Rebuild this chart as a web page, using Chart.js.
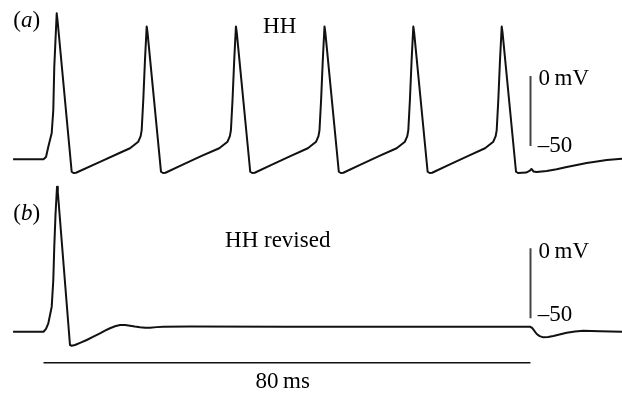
<!DOCTYPE html>
<html>
<head>
<meta charset="utf-8">
<script src="https://cdn.jsdelivr.net/npm/chart.js@4/dist/chart.umd.min.js"></script>
<style>
  html, body { margin: 0; padding: 0; background: #fff; }
  #wrap { width: 622px; height: 394px; }
</style>
</head>
<body>
<div id="wrap"><canvas id="traceChart" width="622" height="394"></canvas></div>
<script>
// (a) HH: membrane potential (mV) vs time (ms), step current from 0 to 80 ms
var timeA = [-5.0, 0, 0.41, 0.79, 1.35, 1.61, 1.77, 1.97, 2.17, 2.30, 4.63, 4.93, 5.34, 9.28, 12.57,
  14.21, 15.57, 15.96, 16.13, 16.39, 16.67, 16.95, 17.08, 19.30, 19.63, 20.04, 22.70, 25.98,
  28.87, 30.23, 30.62, 30.79, 31.05, 31.33, 31.61, 31.74, 33.96, 34.29, 34.70, 37.36, 40.64,
  43.42, 44.78, 45.17, 45.34, 45.60, 45.88, 46.16, 46.29, 48.51, 48.84, 49.25, 51.91, 55.19,
  58.01, 59.37, 59.76, 59.93, 60.19, 60.47, 60.75, 60.88, 63.10, 63.43, 63.84, 66.50, 69.78,
  72.53, 73.89, 74.28, 74.45, 74.71, 74.99, 75.27, 75.40, 77.62, 77.95, 79.3, 79.9, 80.15, 80.5, 81.0,
  82.66, 84.3, 85.95, 87.6, 89.23, 90.9, 92.52, 95.1];
var voltA = [-59.5, -59.5, -57.9, -50.5, -40.7, -24.3, 6.4, 25.7, 44.8, 40.0, -68.4, -69.3, -69.1, -61.3, -54.8,
  -51.6, -46.9, -42.9, -38.6, -17.1, 11.4, 35.4, 31.4, -68.4, -69.3, -69.1, -63.6, -57.1,
  -51.6, -46.9, -42.9, -38.6, -17.1, 11.4, 35.4, 31.4, -68.4, -69.3, -69.1, -63.6, -57.1,
  -51.6, -46.9, -42.9, -38.6, -17.1, 11.4, 35.4, 31.4, -68.4, -69.3, -69.1, -63.6, -57.1,
  -51.6, -46.9, -42.9, -38.6, -17.1, 11.4, 35.4, 31.4, -68.4, -69.3, -69.1, -63.6, -57.1,
  -51.6, -46.9, -42.9, -38.6, -17.1, 11.4, 35.4, 31.4, -68.4, -69.3, -69.0, -67.6, -66.4, -68.2, -68.6,
  -67.9, -66.6, -65.0, -63.5, -62.1, -61.0, -60.0, -59.1];

// (b) HH revised
var timeB = [-5.0, 0, 0.41, 0.79, 1.35, 1.61, 1.77, 1.97, 2.22, 2.35, 4.35, 4.63, 5.17, 6.1, 7.10, 8.2, 9.28,
  10.1, 10.92, 11.75, 12.57, 13.4, 14.21, 15.0, 15.85, 16.7, 17.49, 18.6, 19.68, 24.07, 40, 60, 79.92,
  80.3, 81.02, 81.5, 82.10, 82.9, 83.75, 85.95, 87.3, 88.67, 90.0, 91.42, 95.1];
var voltB = [-59.6, -59.6, -57.6, -53.6, -41.7, -22.6, 1.1, 23.8, 44.0, 40.2, -69.1, -69.6, -69.1, -67.4, -65.5, -63.1, -60.7,
  -58.8, -57.1, -55.7, -54.8, -54.8, -55.3, -55.9, -56.4, -56.7, -56.7, -56.3, -56.0, -55.9, -56.0, -56.0, -56.0,
  -57.0, -61.2, -62.7, -63.6, -63.4, -62.6, -60.3, -59.4, -58.9, -59.1, -59.3, -59.6];

// scale bars
var barTime = [0, 80];      // ms
var barVolt = [0, -50];     // mV
var barTimeLevel = -81.7;   // mV, where the time bar sits under (b)

var panelLetters = ['a', 'b'];
var panelTitles = ['HH', 'HH revised'];
var voltLabels = ['0\u2009mV', '\u201350'];
var timeLabel = '80\u2009ms';

function pts(xs, ys) {
  return xs.map(function (x, i) { return { x: x, y: ys[i] }; });
}

var FONT = '23px "Liberation Serif", "Times New Roman", serif';

var textPlugin = {
  id: 'panelText',
  afterDatasetsDraw: function (chart) {
    var c = chart.ctx;
    var sx = chart.scales.x;
    c.save();
    c.fillStyle = '#000';
    c.textBaseline = 'alphabetic';
    c.textAlign = 'left';

    ['ya', 'yb'].forEach(function (id, k) {
      var sy = chart.scales[id];
      // (a) / (b) with italic letter
      var x = sx.getPixelForValue(-4.96);
      var y = sy.getPixelForValue(k === 0 ? 35 : 20.2);
      c.font = FONT;
      c.fillText('(', x, y);
      x += c.measureText('(').width;
      c.font = 'italic ' + FONT;
      c.fillText(panelLetters[k], x, y);
      x += c.measureText(panelLetters[k]).width;
      c.font = FONT;
      c.fillText(')', x, y);

      // trace title
      c.fillText(panelTitles[k], sx.getPixelForValue(k === 0 ? 36.06 : 29.82),
        sy.getPixelForValue(k === 0 ? 30.5 : 1.1));

      // voltage bar labels
      c.fillText(voltLabels[0], sx.getPixelForValue(81.3), sy.getPixelForValue(k === 0 ? -6.4 : -6.9));
      c.fillText(voltLabels[1], sx.getPixelForValue(81.2), sy.getPixelForValue(k === 0 ? -54.1 : -51.6));
    });

    c.textAlign = 'center';
    c.fillText(timeLabel, sx.getPixelForValue(39.3), chart.scales.yb.getPixelForValue(-100));
    c.restore();
  }
};

var trace = { borderColor: '#111', borderWidth: 2, borderJoinStyle: 'round', pointRadius: 0, tension: 0, fill: false };

var ctx = document.getElementById('traceChart').getContext('2d');
var traceChart = new Chart(ctx, {
  type: 'line',
  data: {
    datasets: [
      Object.assign({ label: panelTitles[0], data: pts(timeA, voltA), yAxisID: 'ya' }, trace),
      Object.assign({ label: panelTitles[1], data: pts(timeB, voltB), yAxisID: 'yb' }, trace),
      { label: 'bar a', data: pts([barTime[1], barTime[1]], barVolt), yAxisID: 'ya',
        borderColor: '#444', borderWidth: 2, pointRadius: 0, tension: 0 },
      { label: 'bar b', data: pts([barTime[1], barTime[1]], barVolt), yAxisID: 'yb',
        borderColor: '#444', borderWidth: 2, pointRadius: 0, tension: 0 },
      { label: 'time bar', data: pts(barTime, [barTimeLevel, barTimeLevel]), yAxisID: 'yb',
        borderColor: '#111', borderWidth: 1.5, pointRadius: 0, tension: 0 }
    ]
  },
  options: {
    responsive: false,
    animation: false,
    layout: { padding: 0 },
    plugins: { legend: { display: false }, tooltip: { enabled: false } },
    scales: {
      x: { type: 'linear', min: -7.146, max: 95.03, display: false },
      ya: { type: 'linear', min: -227.14, max: 54.29, display: false },
      yb: { type: 'linear', min: -104.07, max: 177.36, display: false }
    }
  },
  plugins: [textPlugin]
});
</script>
</body>
</html>
